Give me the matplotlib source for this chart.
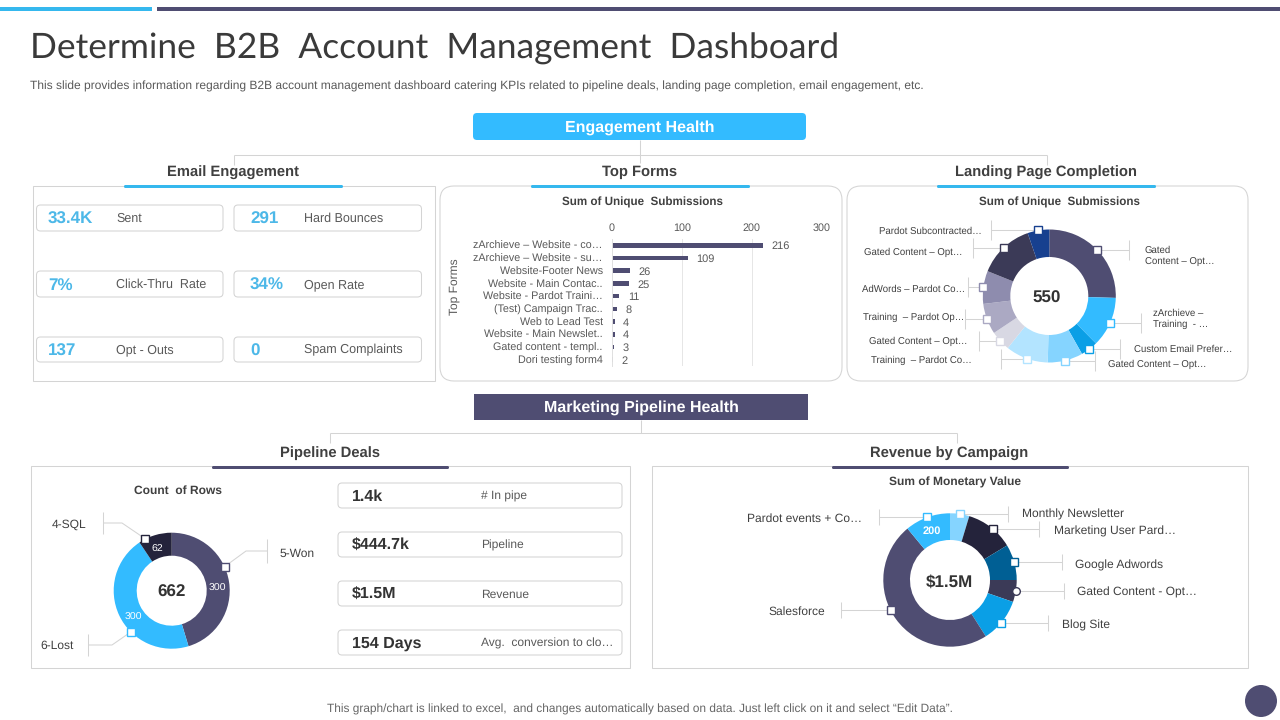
import numpy as np
import matplotlib
matplotlib.use("Agg")
import matplotlib.pyplot as plt
from matplotlib.patches import FancyBboxPatch, Rectangle, Circle

plt.rcParams['font.family'] = ['Liberation Sans', 'DejaVu Sans']
plt.rcParams['text.hinting'] = 'no_hinting'

# ---------- data ----------
title = "Determine  B2B  Account  Management  Dashboard"
subtitle = ("This slide provides information regarding B2B account management dashboard catering KPIs "
            "related to pipeline deals, landing page completion, email engagement, etc.")
footer = "This graph/chart is linked to excel,  and changes automatically based on data. Just left click on it and select \u201cEdit Data\u201d."

email_values = ["33.4K", "291", "7%", "34%", "137", "0"]
email_labels = ["Sent", "Hard Bounces", "Click-Thru  Rate", "Open Rate", "Opt - Outs", "Spam Complaints"]

form_labels = ["zArchieve \u2013 Website - co\u2026", "zArchieve \u2013 Website - su\u2026", "Website-Footer News",
               "Website - Main Contac..", "Website - Pardot Traini\u2026", "(Test) Campaign Trac..",
               "Web to Lead Test", "Website - Main Newslet..", "Gated content - templ..", "Dori testing form4"]
form_values = [216, 109, 26, 25, 11, 8, 4, 4, 3, 2]
form_ticks = [0, 100, 200, 300]

landing_labels = ["Gated\nContent \u2013 Opt\u2026", "zArchieve \u2013\nTraining  - \u2026", "Custom Email Prefer\u2026",
                  "Gated Content \u2013 Opt\u2026", "Training  \u2013 Pardot Co\u2026", "Gated Content \u2013 Opt\u2026",
                  "Training  \u2013 Pardot Op\u2026", "AdWords \u2013 Pardot Co\u2026", "Gated Content \u2013 Opt\u2026",
                  "Pardot Subcontracted\u2026"]
landing_values = [140, 67, 23, 47, 57, 27, 41, 44, 75, 29]
landing_total = "550"

pipeline_values_kpi = ["1.4k", "$444.7k", "$1.5M", "154 Days"]
pipeline_labels_kpi = ["# In pipe", "Pipeline", "Revenue", "Avg.  conversion to clo\u2026"]

stage_labels = ["5-Won", "6-Lost", "4-SQL"]
stage_values = [300, 300, 62]
stage_total = "662"

campaign_labels = ["Monthly Newsletter", "Marketing User Pard\u2026", "Google Adwords", "Gated Content - Opt\u2026",
                   "Blog Site", "Salesforce", "Pardot events + Co\u2026"]
campaign_values = [70, 175, 130, 80, 160, 720, 165]
campaign_total = "$1.5M"

# ---------- style / layout ----------
DARK = "#4F4D72"; CYAN = "#33BBFF"; LINE = "#D4D4D4"; TXT = "#404040"; GREY = "#595959"; KPI = "#4DB8E8"
landing_colors = ["#4F4D72", "#33BBFF", "#0A9FE6", "#85D4FF", "#B3E4FF", "#D8D8E3", "#ABA9C3", "#8E8CAE", "#3B3A57", "#17408F"]
stage_colors = ["#4F4D72", "#33BBFF", "#24233B"]
campaign_colors = ["#85D4FF", "#24233B", "#005F94", "#3B3A57", "#0A9FE6", "#4F4D72", "#33BBFF"]

W, H = 1280, 720
LW = 0.75
fs = lambda p: p * 0.72
fig = plt.figure(figsize=(W / 100, H / 100), dpi=100, facecolor="white")

def overlay(z):
    a = fig.add_axes([0, 0, 1, 1], zorder=z)
    a.set_xlim(0, W); a.set_ylim(H, 0); a.axis("off"); a.patch.set_alpha(0)
    return a

bg = overlay(0)
fg = overlay(5)

def rbox(a, x0, y0, x1, y1, r=4, fc="white", ec=LINE, lw=LW, z=2):
    a.add_patch(FancyBboxPatch((x0 + r, y0 + r), x1 - x0 - 2 * r, y1 - y0 - 2 * r,
                               boxstyle=f"round,pad={r},rounding_size={r}", fc=fc, ec=ec, lw=lw, zorder=z))

def seg(a, xs, ys, color=LINE, lw=LW, z=1):
    a.plot(xs, ys, color=color, lw=lw, zorder=z, solid_capstyle="butt")

def txt(x, y, s, size, color=TXT, weight="normal", ha="left", **k):
    fg.text(x, y + 1.5, s, fontsize=fs(size), color=color, fontweight=weight, ha=ha, va="center", **k)

# top rules
bg.add_patch(Rectangle((0, 7), 152, 3.5, fc="#35B8EE", ec="none"))
bg.add_patch(Rectangle((157, 7), W - 157, 3.5, fc=DARK, ec="none"))

fg.text(30, 48.5, title, fontsize=fs(35.4), color="#3A3A3A", family="Lato", fontweight="normal", ha="left", va="center")
txt(30, 85, subtitle, 12, color=GREY)
txt(640, 708, footer, 11.9, color="#666666", ha="center")
bg.add_patch(Circle((1261, 701), 16, fc=DARK, ec="none"))

# connectors
seg(bg, [640, 640], [140, 163]); seg(bg, [234, 1047], [155, 155])
seg(bg, [234, 234], [155, 165]); seg(bg, [1047, 1047], [155, 165])
seg(bg, [641, 641], [420, 433]); seg(bg, [330, 957], [433, 433])
seg(bg, [330, 330], [433, 443]); seg(bg, [957, 957], [433, 443])

# banners
rbox(bg, 473, 113, 806, 140, r=4, fc=CYAN, ec="none")
txt(639.5, 126, "Engagement Health", 16, color="white", weight="bold", ha="center")
bg.add_patch(Rectangle((474, 394), 334, 26, fc=DARK, ec="none", zorder=2))
txt(641, 406, "Marketing Pipeline Health", 16, color="white", weight="bold", ha="center")

# panels
bg.add_patch(Rectangle((33, 186), 402, 195, fc="white", ec=LINE, lw=LW, zorder=2))
rbox(bg, 440, 186, 842, 381, r=14)
rbox(bg, 847, 186, 1248, 381, r=14)
bg.add_patch(Rectangle((31, 466), 599, 202, fc="white", ec=LINE, lw=LW, zorder=2))
bg.add_patch(Rectangle((652, 466), 596, 202, fc="white", ec=LINE, lw=LW, zorder=2))

# section headers
for cx, y, s, x0, x1, col in [(233, 171, "Email Engagement", 124, 343, "#35B8EE"),
                              (640, 171, "Top Forms", 531, 750, "#35B8EE"),
                              (1046, 171, "Landing Page Completion", 937, 1156, "#35B8EE"),
                              (330, 452, "Pipeline Deals", 212, 449, DARK),
                              (949, 452, "Revenue by Campaign", 832, 1069, DARK)]:
    txt(cx, y, s, 14.7, weight="bold", ha="center")
    rbox(bg, x0, y + 14, x1, y + 17, r=1.4, fc=col, ec="none", z=3)

# email KPI boxes
rows = [(205, 231), (271, 297), (337, 362)]
cols = [(36.5, 223, 48, 116), (234, 421.5, 250, 304)]
for i, (v, l) in enumerate(zip(email_values, email_labels)):
    y0, y1 = rows[i // 2]
    x0, x1, xv, xl = cols[i % 2]
    rbox(bg, x0, y0, x1, y1, r=4)
    txt(xv, (y0 + y1) / 2, v, 17, color=KPI, weight="bold")
    txt(xl, (y0 + y1) / 2 - 1, l, 12.5, color=GREY)

# pipeline KPI boxes
for (y0, y1), v, l in zip([(483, 508), (532, 557), (581, 606), (630, 655)], pipeline_values_kpi, pipeline_labels_kpi):
    rbox(bg, 338, y0, 622, y1, r=4)
    txt(352, (y0 + y1) / 2, v, 16, color="#333333", weight="bold")
    txt(481, (y0 + y1) / 2 - 0.5, l, 12, color=GREY)

# chart titles
txt(642, 201, "Sum of Unique  Submissions", 11.6, weight="bold", ha="center")
txt(1059.5, 201, "Sum of Unique  Submissions", 11.6, weight="bold", ha="center")
txt(178, 489, "Count  of Rows", 12, weight="bold", ha="center")
txt(955, 481, "Sum of Monetary Value", 12, weight="bold", ha="center")

# bar chart
x0, x1, y0, y1 = 611.7, 821.7, 239, 366
ax = fig.add_axes([x0 / W, 1 - y1 / H, (x1 - x0) / W, (y1 - y0) / H], zorder=3)
ax.patch.set_alpha(0)
pos = np.arange(len(form_values))
bars = ax.barh(pos, form_values, height=0.36, color=DARK)
ax.set_xlim(0, 300); ax.set_ylim(len(form_values) - 0.5, -0.5)
ax.xaxis.tick_top()
ax.set_xticks(form_ticks); ax.set_yticks(pos, form_labels)
ax.grid(axis="x", color="#E6E6E6", lw=0.7); ax.set_axisbelow(True)
for s in ax.spines.values(): s.set_visible(False)
ax.spines["left"].set_visible(True); ax.spines["left"].set_color("#E0E0E0"); ax.spines["left"].set_linewidth(0.7)
ax.tick_params(axis="both", length=0, labelsize=fs(10.8), labelcolor=GREY)
ax.tick_params(axis="y", pad=6.5); ax.tick_params(axis="x", pad=4)
for t in ax.get_yticklabels():
    t.set_va("center_baseline")
for t in ax.bar_label(bars, padding=6, fontsize=fs(11), color=GREY):
    t.set_va("center_baseline")
txt(454.5, 285, "Top Forms", 12, color=GREY, ha="center", rotation=90)

# donuts
def donut(cx, cy, R, r, values, colors, offsets=None, markers=None):
    a = fig.add_axes([(cx - R) / W, 1 - (cy + R) / H, 2 * R / W, 2 * R / H], zorder=3)
    a.pie(values, colors=colors, startangle=90, counterclock=False, radius=1,
          wedgeprops=dict(width=1 - r / R, linewidth=0))
    a.set_xlim(-1, 1); a.set_ylim(-1, 1)
    v = np.asarray(values, float)
    ends = np.cumsum(v) / v.sum() * 360
    mids = ends - v / v.sum() * 180
    if offsets is not None:
        mids = mids + np.asarray(offsets)
    pts = []
    for i, m in enumerate(mids):
        t = np.deg2rad(m)
        px_, py_ = cx + R * np.sin(t), cy - R * np.cos(t)
        pts.append((px_, py_))
        mk = markers[i] if markers else "s"
        fg.plot([px_], [py_], marker=mk, ms=5.5, mfc="white", mec=colors[i], mew=1.0, zorder=8, ls="none")
    return pts

def leader(pt, tick_x, h=10, elbow=None):
    if elbow is None:
        seg(fg, [pt[0], tick_x], [pt[1], pt[1]], z=6)
        y = pt[1]
    else:
        seg(fg, [pt[0], elbow[0], tick_x], [pt[1], elbow[1], elbow[1]], z=6)
        y = elbow[1]
    seg(fg, [tick_x, tick_x], [y - h, y + h], z=6)

# landing donut
pts = donut(1049.3, 296, 66.5, 39, landing_values, landing_colors)
land_ticks = [1129, 1141, 1120, 1095, 1001, 979, 965, 968, 973, 991]
land_text = [(1145, 255, "left"), (1153, 317.5, "left"), (1134, 348, "left"), (1108, 363, "left"), (871, 359, "left"),
             (869, 340, "left"), (863, 316, "left"), (862, 288, "left"), (864, 251, "left"), (879, 230, "left")]
for p, t, (x, y, ha), s in zip(pts, land_ticks, land_text, landing_labels):
    leader(p, t)
    txt(x, y, s, 9.6, ha=ha, linespacing=1.3)
txt(1047, 296.5, landing_total, 17, color="#333333", weight="bold", ha="center")

# pipeline donut
pts = donut(171.7, 590.7, 58, 35, stage_values, stage_colors, offsets=[-16, -20, -10])
leader(pts[0], 267, 12, elbow=(246, 551))
leader(pts[1], 88, 11, elbow=(112, 645))
leader(pts[2], 103, 11, elbow=(122, 523))
txt(280, 552, stage_labels[0], 12)
txt(40, 644, stage_labels[1], 12)
txt(52, 523, stage_labels[2], 12)
txt(217, 587, str(stage_values[0]), 10.5, color="white", ha="center")
txt(133, 616, str(stage_values[1]), 10.5, color="white", ha="center")
txt(157, 548, str(stage_values[2]), 10.5, color="white", ha="center")
txt(172, 590.5, stage_total, 17, color="#333333", weight="bold", ha="center")

# campaign donut
pts = donut(950, 580, 66.7, 40, campaign_values, campaign_colors,
            offsets=[0, 2, 0, 0, 2, 9, 0], markers=["s", "s", "s", "o", "s", "s", "s"])
camp_ticks = [1008, 1039, 1062, 1064, 1048, 841, 879]
camp_text = [(1022, 512.5), (1054, 530), (1075, 564), (1077, 591), (1062, 624), (768, 610), (747, 517)]
for p, t, (x, y), s in zip(pts, camp_ticks, camp_text, campaign_labels):
    leader(p, t, 8)
    txt(x, y, s, 12)
txt(932, 530, "200", 11, color="white", weight="bold", ha="center")
txt(949, 580.5, campaign_total, 17, color="#333333", weight="bold", ha="center")

fig.savefig("out.png", dpi=100)
